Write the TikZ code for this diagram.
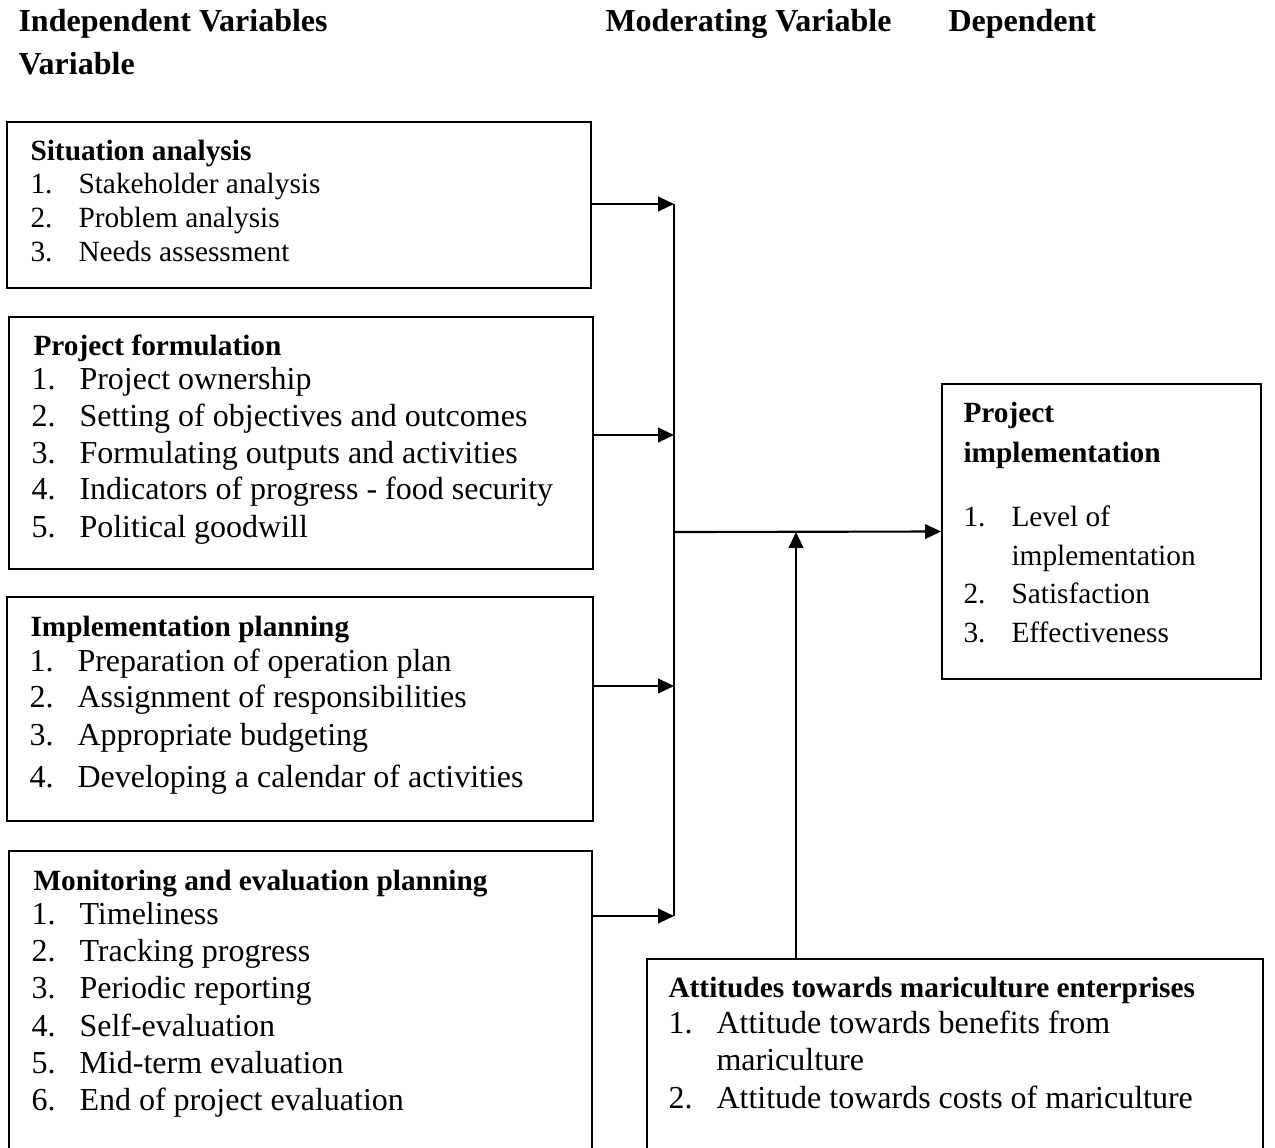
\documentclass[tikz,border=0pt]{standalone}
\usepackage{fontspec}
\setmainfont{Liberation Serif}
\usetikzlibrary{arrows.meta,fit}

\newcommand{\itm}[2]{\makebox[18pt][l]{#1}#2}

\tikzset{
  box/.style={draw, line width=0.75pt, inner sep=0pt},
  hd/.style={anchor=base west, inner sep=0pt, font=\fontsize{12}{14}\selectfont\bfseries},
  ttl/.style={anchor=base west, inner sep=0pt, font=\fontsize{11}{13}\selectfont\bfseries},
  sm/.style={anchor=base west, inner sep=0pt, font=\fontsize{11}{13}\selectfont},
  lg/.style={anchor=base west, inner sep=0pt, font=\fontsize{12}{14}\selectfont},
  arr/.style={-{Triangle[length=6pt,width=5.5pt]}, line width=0.8pt},
}

\begin{document}
\begin{tikzpicture}[x=0.375pt, y=-0.375pt]
    \clip (0,0) rectangle (1275,1147);
    \fill[white] (0,0) rectangle (1275,1147);

    % headings
    \node[hd] (hIV) at (18,31) {Independent Variables};
    \node[hd] (hMV) at (605,31) {Moderating Variable};
    \node[hd] (hDV) at (948,31) {Dependent};
    \node[hd] (hV) at (18,74) {Variable};

    % boxes
    \node[box, fit={(7,122) (591,288)}] (sa) {};
    \node[box, fit={(9,317) (593,569)}] (pf) {};
    \node[box, fit={(7,597) (593,821)}] (ip) {};
    \node[box, fit={(9,851) (592,1170)}] (me) {};
    \node[box, fit={(942,384) (1261,679)}] (pi) {};
    \node[box, fit={(647,959) (1263,1170)}] (at) {};

    % Situation analysis
    \node[ttl] (sa-t) at (30,160) {Situation analysis};
    \node[sm] (sa-1) at (30,193) {\itm{1.}{Stakeholder analysis}};
    \node[sm] (sa-2) at (30,227) {\itm{2.}{Problem analysis}};
    \node[sm] (sa-3) at (30,261) {\itm{3.}{Needs assessment}};

    % Project formulation
    \node[ttl] (pf-t) at (33,355) {Project formulation};
    \node[lg] (pf-1) at (31,389) {\itm{1.}{Project ownership}};
    \node[lg] (pf-2) at (31,426) {\itm{2.}{Setting of objectives and outcomes}};
    \node[lg] (pf-3) at (31,463) {\itm{3.}{Formulating outputs and activities}};
    \node[lg] (pf-4) at (31,499) {\itm{4.}{Indicators of progress - food security}};
    \node[lg] (pf-5) at (31,537) {\itm{5.}{Political goodwill}};

    % Implementation planning
    \node[ttl] (ip-t) at (30,636) {Implementation planning};
    \node[lg] (ip-1) at (29,671) {\itm{1.}{Preparation of operation plan}};
    \node[lg] (ip-2) at (29,707) {\itm{2.}{Assignment of responsibilities}};
    \node[lg] (ip-3) at (29,745) {\itm{3.}{Appropriate budgeting}};
    \node[lg] (ip-4) at (29,787) {\itm{4.}{Developing a calendar of activities}};

    % Monitoring and evaluation planning
    \node[ttl] (me-t) at (33,890) {Monitoring and evaluation planning};
    \node[lg] (me-1) at (31,924) {\itm{1.}{Timeliness}};
    \node[lg] (me-2) at (31,961) {\itm{2.}{Tracking progress}};
    \node[lg] (me-3) at (31,998) {\itm{3.}{Periodic reporting}};
    \node[lg] (me-4) at (31,1036) {\itm{4.}{Self-evaluation}};
    \node[lg] (me-5) at (31,1073) {\itm{5.}{Mid-term evaluation}};
    \node[lg] (me-6) at (31,1110) {\itm{6.}{End of project evaluation}};

    % Project implementation
    \node[ttl] (pi-t1) at (963,422) {Project};
    \node[ttl] (pi-t2) at (963,462) {implementation};
    \node[sm] (pi-1) at (963,526) {\itm{1.}{Level of}};
    \node[sm] (pi-1b) at (1011,565) {implementation};
    \node[sm] (pi-2) at (963,603) {\itm{2.}{Satisfaction}};
    \node[sm] (pi-3) at (963,642) {\itm{3.}{Effectiveness}};

    % Attitudes
    \node[ttl] (at-t) at (668,997) {Attitudes towards mariculture enterprises};
    \node[lg] (at-1) at (668,1033) {\itm{1.}{Attitude towards benefits from}};
    \node[lg] (at-1b) at (716,1070) {mariculture};
    \node[lg] (at-2) at (668,1108) {\itm{2.}{Attitude towards costs of mariculture}};

    % connectors
    \coordinate (j1) at (674,204);
    \coordinate (j2) at (674,435);
    \coordinate (j3) at (674,686);
    \coordinate (j4) at (674,916);
    \coordinate (mid) at (674,532);
    \coordinate (up) at (796,532);

    \draw[line width=0.75pt] (j1) -- (j4);
    \draw[arr] (sa.east |- j1) -- (j1);
    \draw[arr] (pf.east |- j2) -- (j2);
    \draw[arr] (ip.east |- j3) -- (j3);
    \draw[arr] (me.east |- j4) -- (j4);
    \draw[arr] (mid) -- (pi.west);
    \draw[arr] (at.north -| up) -- (up);
\end{tikzpicture}
\end{document}
